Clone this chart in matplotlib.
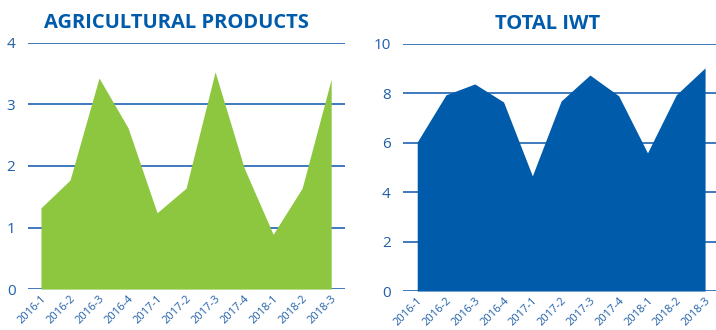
import matplotlib.pyplot as plt

quarters = ['2016-1', '2016-2', '2016-3', '2016-4', '2017-1', '2017-2',
            '2017-3', '2017-4', '2018-1', '2018-2', '2018-3']
agri = [1.32, 1.77, 3.43, 2.62, 1.24, 1.64, 3.53, 1.97, 0.89, 1.64, 3.41]
total_iwt = [6.03, 7.94, 8.38, 7.65, 4.66, 7.69, 8.74, 7.90, 5.59, 7.94, 9.03]

GREEN = '#8dc63f'
BLUE = '#005baa'
GRID = '#2f6fba'
TEXT = '#1f5fa8'

plt.rcParams['font.family'] = ['Open Sans', 'DejaVu Sans']

fig = plt.figure(figsize=(7.16, 3.30), dpi=100)


def area_panel(rect, values, color, title, ymax, step, xlim, title_x):
    ax = fig.add_axes(rect)
    x = range(len(values))
    ax.fill_between(x, values, 0, color=color, lw=0, zorder=2)
    ax.set_xlim(*xlim)
    ax.set_ylim(0, ymax)
    ax.set_yticks(range(0, ymax + 1, step))
    for v in range(0, ymax + 1, step):
        ax.axhline(v, color=GRID, lw=1.3, zorder=1)
    ax.set_xticks(list(x))
    ax.set_xticklabels(quarters, rotation=45, ha='right', rotation_mode='anchor',
                       fontsize=8, color=TEXT)
    ax.tick_params(axis='y', length=0, pad=9, labelsize=11, labelcolor=TEXT)
    ax.tick_params(axis='x', length=0, pad=3)
    for s in ax.spines.values():
        s.set_visible(False)
    ax.set_title(title, fontsize=14.5, fontweight='bold', color=BLUE, pad=11,
                 x=title_x)
    return ax


area_panel([0.039, 0.124, 0.443, 0.746], agri, GREEN,
           'AGRICULTURAL PRODUCTS', 4, 1, (-0.45, 10.48), 0.468)
area_panel([0.563, 0.118, 0.437, 0.749], total_iwt, BLUE,
           'TOTAL IWT', 10, 2, (-0.49, 10.38), 0.462)

fig.savefig('out.png', dpi=100)
